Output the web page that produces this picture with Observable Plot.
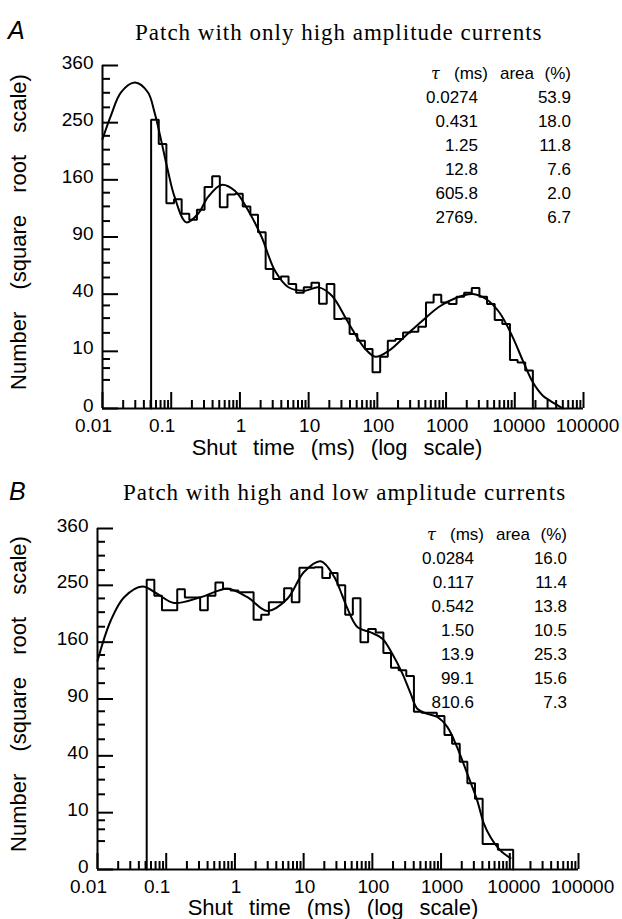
<!DOCTYPE html>
<html><head><meta charset="utf-8">
<script src="https://cdn.jsdelivr.net/npm/d3@7"></script>
<script src="https://cdn.jsdelivr.net/npm/@observablehq/plot@0.6"></script>
<style>
html,body{margin:0;padding:0;background:#fff;}
body{width:622px;height:919px;position:relative;overflow:hidden;font-family:"Liberation Sans",Arial,sans-serif;color:#000;}
.abs{position:absolute;white-space:nowrap;line-height:1;}
.panel{position:absolute;left:0;}
.letter{font-style:italic;font-size:25px;}
.title{font-family:"Liberation Serif","Times New Roman",serif;font-size:23px;letter-spacing:1px;}
.xt{font-size:22px;word-spacing:10px;transform:translateX(-50%);}
.yt{font-size:22px;word-spacing:16px;transform:translate(-50%,-50%) rotate(-90deg);}
.cell{position:absolute;white-space:nowrap;font-size:17px;line-height:24px;height:24px;}
.tau{font-family:"DejaVu Serif",serif;font-style:italic;font-size:16px;}
</style></head><body>
<script>
// ---------- data ----------
const xTickValues = [0.01, 0.1, 1, 10, 100, 1000, 10000, 100000];
const xTickLabels = ["0.01", "0.1", "1", "10", "100", "1000", "10000", "100000"];
const yTickValues = [0, 10, 40, 90, 160, 250, 360];
const yTickLabels = ["0", "10", "40", "90", "160", "250", "360"];
const yMinorTicks = [2.5, 5, 7.5, 17.5, 25, 32.5, 52.5, 65, 77.5, 107.5, 125, 142.5, 182.5, 205, 227.5, 277.5, 305, 332.5];
const xMinorMultipliers = [2, 3, 4, 5, 6, 7, 8, 9];

const binsPerDecade = 9;
const histStartA = 0.051;
const histA = [255, 214, 129, 134, 116, 109, 121, 150, 165, 124, 140, 141, 125, 115, 95,
  59.6, 51.3, 53.4, 47.4, 41, 44.9, 48.4, 33.6, 47.4, 24.5, 24.8, 17, 14, 10.8, 4.0,
  8.2, 14, 14.8, 17.7, 18, 20.5, 34.4, 39.6, 34.4, 33.4, 38.2, 41, 44.4, 38.2, 33.4,
  23.9, 21.8, 7.2, 6.5, 4.4];
const fitA_t = [0.01, 0.0133, 0.0186, 0.0298, 0.0457, 0.057, 0.0714, 0.0895, 0.112, 0.166, 0.246, 0.344, 0.538, 0.842, 1.32, 2.07, 3.24, 5.08, 8.89, 14.0, 21.8, 34.2, 42.8, 67, 93.8, 147, 258, 452, 792, 1387, 2432, 3808, 5975, 9353, 13090, 18300, 25650, 32100, 50000];
const fitA_n = [222, 263, 306, 325, 306, 269, 220, 173, 137, 106, 116, 137, 153, 145, 120, 90, 58, 45, 42.5, 44.9, 38.9, 25.4, 19.3, 10.8, 8.2, 10.2, 16.2, 23.6, 31.7, 37.4, 40.1, 36.7, 28.2, 15.5, 7.0, 2.1, 0.5, 0.2, 0];
const tauA = ["0.0274", "0.431", "1.25", "12.8", "605.8", "2769."];
const areaA = ["53.9", "18.0", "11.8", "7.6", "2.0", "6.7"];

const histStartB = 0.052;
const histB = [260, 232, 208, 208, 243, 229, 229, 208, 232, 255, 244, 241, 238, 238, 193,
  201, 221, 221, 245, 221, 282, 282, 283, 263, 272, 250, 201, 228, 160, 179,
  174, 145, 126, 123, 116, 77, 76, 76, 73, 56, 49, 36, 23, 15.5, 2.0,
  2.0, 1.2, 1.2];
const fitB_t = [0.01, 0.0156, 0.0244, 0.0451, 0.0746, 0.130, 0.318, 0.778, 1.52, 2.97, 5.8, 10.1, 17.7, 27.6, 36.6, 43, 60.4, 94.4, 140, 195, 273, 360, 451, 631, 881, 1231, 1721, 2404, 3360, 4198, 5250, 7330, 10230];
const fitB_n = [135, 192, 229.5, 248, 235, 220, 229.5, 244, 229.5, 207, 227, 274, 294, 266, 232, 212, 182, 174, 165, 144, 119, 96, 80, 75, 72, 63, 46, 28.4, 14.7, 6.5, 3.2, 1.1, 0.4];
const tauB = ["0.0284", "0.117", "0.542", "1.50", "13.9", "99.1", "810.6"];
const areaB = ["16.0", "11.4", "13.8", "10.5", "25.3", "15.6", "7.3"];

const titleA = "Patch with only high amplitude currents";
const titleB = "Patch with high and low amplitude currents";
const xTitle = "Shut time (ms) (log scale)";
const yTitle = "Number (square root scale)";
const tableHead = ["τ", "(ms)", "area", "(%)"];

// ---------- helpers ----------
function stepPoints(start, heights) {
  const pts = [{t: start, n: 0}];
  heights.forEach((h, i) => {
    pts.push({t: start * 10 ** (i / binsPerDecade), n: h});
    pts.push({t: start * 10 ** ((i + 1) / binsPerDecade), n: h});
  });
  pts.push({t: start * 10 ** (heights.length / binsPerDecade), n: 0});
  return pts;
}
const xMinorTicks = xTickValues.slice(0, -1).flatMap(d => xMinorMultipliers.map(k => d * k));
const xLabel = d => xTickLabels[xTickValues.findIndex(v => Math.abs(Math.log10(v) - Math.log10(d)) < 1e-6)];
const yLabel = d => yTickLabels[yTickValues.indexOf(d)];

function panel(cfg) {
  const innerH = cfg.height - cfg.marginTop - cfg.marginBottom;
  const innerW = 622 - cfg.marginLeft - cfg.marginRight;
  const fit = cfg.fitT.map((t, i) => ({t, n: cfg.fitN[i]}));
  const axisOpts = {tickSize: 0, tickPadding: 10, tickFormat: xLabel, label: null};
  return Plot.plot({
    width: 622, height: cfg.height,
    marginTop: cfg.marginTop, marginBottom: cfg.marginBottom,
    marginLeft: cfg.marginLeft, marginRight: cfg.marginRight,
    style: {fontFamily: '"Liberation Sans", Arial, sans-serif', fontSize: "19px", color: "#000", background: "transparent", overflow: "visible"},
    x: {type: "log", domain: [0.01, 100000]},
    y: {type: "sqrt", domain: [0, 360]},
    marks: [
      Plot.axisX({...axisOpts, ticks: xTickValues.slice(0, 2), dx: -9}),
      Plot.axisX({...axisOpts, ticks: xTickValues.slice(2, 6), dx: 1}),
      Plot.axisX({...axisOpts, ticks: xTickValues.slice(6), dx: 4}),
      Plot.axisY({ticks: yTickValues, tickSize: 0, tickPadding: 9, tickFormat: yLabel, label: null, dy: -3}),
      Plot.tickX(xTickValues, {x: d => d, insetTop: innerH - 16, strokeWidth: 2}),
      Plot.tickX(xMinorTicks, {x: d => d, insetTop: innerH - 8, strokeWidth: 2}),
      Plot.tickY(yTickValues, {y: d => d, insetRight: innerW - 16, strokeWidth: 2}),
      Plot.tickY(yMinorTicks, {y: d => d, insetRight: innerW - 8, strokeWidth: 2}),
      Plot.ruleX([0.01], {y1: 0, y2: 360, strokeWidth: 2}),
      Plot.ruleY([0], {x1: 0.01, x2: 100000, strokeWidth: 2}),
      Plot.line(stepPoints(cfg.histStart, cfg.hist), {x: "t", y: "n", strokeWidth: 2, strokeLinejoin: "miter"}),
      Plot.line(fit, {x: "t", y: "n", curve: "catmull-rom", strokeWidth: 2})
    ]
  });
}

function addText(cls, text, left, top) {
  const d = document.createElement("div");
  d.className = "abs " + cls;
  d.textContent = text;
  d.style.left = left + "px";
  d.style.top = top + "px";
  document.body.appendChild(d);
  return d;
}
function cell(text, top, pos, cls) {
  const d = document.createElement("div");
  d.className = "cell" + (cls ? " " + cls : "");
  d.textContent = text;
  d.style.top = top + "px";
  if (pos.left != null) d.style.left = pos.left + "px";
  else d.style.right = (622 - pos.right) + "px";
  document.body.appendChild(d);
}
function addTable(tau, area, top, tauRight, areaRight, headLeft) {
  cell(tableHead[0], top, {left: headLeft}, "tau");
  cell(tableHead[1], top, {right: tauRight + 10});
  cell(tableHead[2], top, {left: tauRight + 22});
  cell(tableHead[3], top, {right: areaRight});
  tau.forEach((v, i) => {
    cell(v, top + 24 * (i + 1), {right: tauRight});
    cell(area[i], top + 24 * (i + 1), {right: areaRight});
  });
}

// ---------- panel A ----------
const pa = document.createElement("div");
pa.className = "panel"; pa.style.top = "0px";
pa.appendChild(panel({height: 460, marginTop: 65, marginBottom: 52, marginLeft: 102, marginRight: 39,
  hist: histA, histStart: histStartA, fitT: fitA_t, fitN: fitA_n}));
document.body.appendChild(pa);

// ---------- panel B ----------
const pb = document.createElement("div");
pb.className = "panel"; pb.style.top = "463px";
pb.appendChild(panel({height: 456, marginTop: 65, marginBottom: 50, marginLeft: 97, marginRight: 44,
  hist: histB, histStart: histStartB, fitT: fitB_t, fitN: fitB_n}));
document.body.appendChild(pb);

// ---------- text ----------
addText("letter", "A", 8, 18);
addText("title", titleA, 135, 21);
addText("letter", "B", 9, 479);
addText("title", titleB, 123, 481);
addText("xt", xTitle, 337, 437);
addText("xt", xTitle, 333, 897);
addText("yt", yTitle, 19, 232);
addText("yt", yTitle, 19, 694);
addTable(tauA, areaA, 62, 478, 571, 431);
addTable(tauB, areaB, 523, 474, 567, 427);
</script>
</body></html>
